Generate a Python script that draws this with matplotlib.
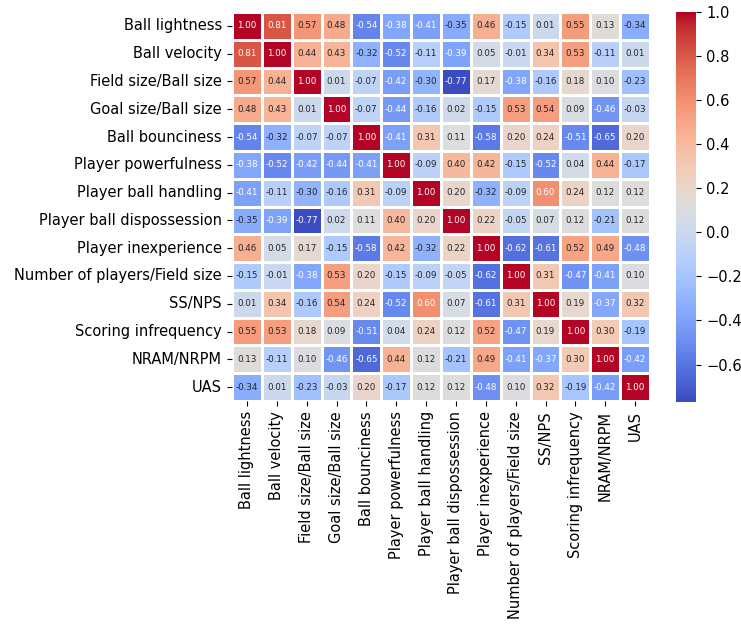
import numpy as np
import matplotlib
matplotlib.use("Agg")
import matplotlib.pyplot as plt
import seaborn as sns

labels = ["Ball lightness", "Ball velocity", "Field size/Ball size", "Goal size/Ball size",
          "Ball bounciness", "Player powerfulness", "Player ball handling",
          "Player ball dispossession", "Player inexperience", "Number of players/Field size",
          "SS/NPS", "Scoring infrequency", "NRAM/NRPM", "UAS"]

# correlation matrix
r_ball_lightness = [1.00, 0.81, 0.57, 0.48, -0.54, -0.38, -0.41, -0.35, 0.46, -0.15, 0.01, 0.55, 0.13, -0.34]
r_ball_velocity = [0.81, 1.00, 0.44, 0.43, -0.32, -0.52, -0.11, -0.39, 0.05, -0.01, 0.34, 0.53, -0.11, 0.01]
r_field_size = [0.57, 0.44, 1.00, 0.01, -0.07, -0.42, -0.30, -0.77, 0.17, -0.38, -0.16, 0.18, 0.10, -0.23]
r_goal_size = [0.48, 0.43, 0.01, 1.00, -0.07, -0.44, -0.16, 0.02, -0.15, 0.53, 0.54, 0.09, -0.46, -0.03]
r_bounciness = [-0.54, -0.32, -0.07, -0.07, 1.00, -0.41, 0.31, 0.11, -0.58, 0.20, 0.24, -0.51, -0.65, 0.20]
r_powerfulness = [-0.38, -0.52, -0.42, -0.44, -0.41, 1.00, -0.09, 0.40, 0.42, -0.15, -0.52, 0.04, 0.44, -0.17]
r_handling = [-0.41, -0.11, -0.30, -0.16, 0.31, -0.09, 1.00, 0.20, -0.32, -0.09, 0.60, 0.24, 0.12, 0.12]
r_dispossession = [-0.35, -0.39, -0.77, 0.02, 0.11, 0.40, 0.20, 1.00, 0.22, -0.05, 0.07, 0.12, -0.21, 0.12]
r_inexperience = [0.46, 0.05, 0.17, -0.15, -0.58, 0.42, -0.32, 0.22, 1.00, -0.62, -0.61, 0.52, 0.49, -0.48]
r_num_players = [-0.15, -0.01, -0.38, 0.53, 0.20, -0.15, -0.09, -0.05, -0.62, 1.00, 0.31, -0.47, -0.41, 0.10]
r_ss_nps = [0.01, 0.34, -0.16, 0.54, 0.24, -0.52, 0.60, 0.07, -0.61, 0.31, 1.00, 0.19, -0.37, 0.32]
r_scoring = [0.55, 0.53, 0.18, 0.09, -0.51, 0.04, 0.24, 0.12, 0.52, -0.47, 0.19, 1.00, 0.30, -0.19]
r_nram = [0.13, -0.11, 0.10, -0.46, -0.65, 0.44, 0.12, -0.21, 0.49, -0.41, -0.37, 0.30, 1.00, -0.42]
r_uas = [-0.34, 0.01, -0.23, -0.03, 0.20, -0.17, 0.12, 0.12, -0.48, 0.10, 0.32, -0.19, -0.42, 1.00]

corr = np.array([r_ball_lightness, r_ball_velocity, r_field_size, r_goal_size, r_bounciness,
                 r_powerfulness, r_handling, r_dispossession, r_inexperience, r_num_players,
                 r_ss_nps, r_scoring, r_nram, r_uas])

fig = plt.figure(figsize=(7.41, 6.26), dpi=100)
W, H = 741, 626
ax = fig.add_axes([232 / W, 1 - 401 / H, 418 / W, 389 / H])
cax = fig.add_axes([676 / W, 1 - 402 / H, 20 / W, 390 / H])

sns.heatmap(corr, annot=True, fmt=".2f", cmap="coolwarm", linewidths=2, linecolor="white",
            annot_kws={"size": 6.3}, xticklabels=labels, yticklabels=labels,
            ax=ax, cbar_ax=cax)
ax.tick_params(axis="x", labelrotation=90, labelsize=10.5, length=3.7)
ax.tick_params(axis="y", labelrotation=0, labelsize=10.5, length=3.7)
cax.tick_params(labelsize=10.5, length=3.7)

fig.savefig("out.png", dpi=100)
